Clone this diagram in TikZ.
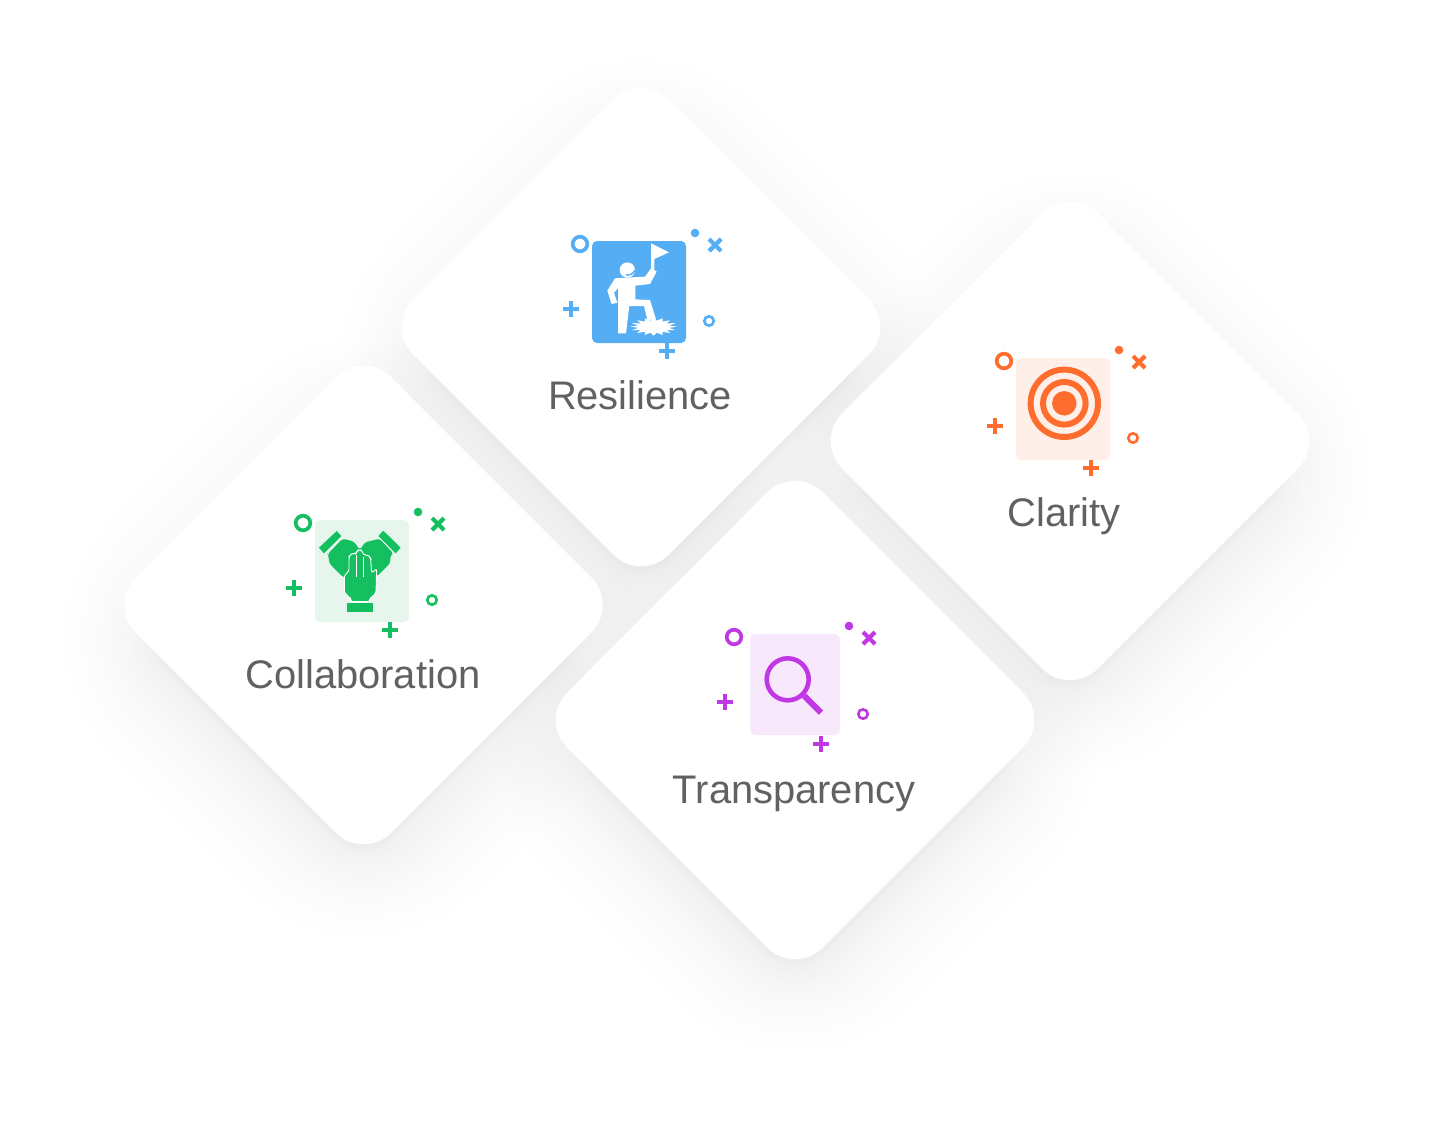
\documentclass[tikz,border=0pt]{standalone}
\usepackage{fontspec}
\setmainfont{Liberation Sans}
\usetikzlibrary{shapes.geometric, positioning}

\definecolor{inkgray}{HTML}{616161}
\definecolor{shadowgray}{HTML}{4A4C52}
\definecolor{skyblue}{HTML}{55ADF3}
\definecolor{flame}{HTML}{FF6D2E}
\definecolor{leaf}{HTML}{14BF60}
\definecolor{violet}{HTML}{C038E4}
\definecolor{leaftile}{HTML}{E7F6EC}
\definecolor{flametile}{HTML}{FEF0E9}
\definecolor{violettile}{HTML}{F7E8FB}

% The little marks around each icon
\newcommand{\sparkles}[3]{
    \begin{scope}[shift={(#2,#3)}, draw=#1, fill=#1]
        \draw[line width=2.1pt] (-59,-48) circle (7.3);
        \draw[line width=1.5pt] (70,29) circle (4.7);
        \fill (56,-59) circle (4.3);
        \draw[line width=2.4pt] (70,-53) -- (82,-41) (70,-41) -- (82,-53);
        \draw[line width=2.5pt] (-76,17) -- (-60,17) (-68,9) -- (-68,25);
        \draw[line width=2.5pt] (20,59) -- (36,59) (28,51) -- (28,67);
    \end{scope}
}

\begin{document}
\begin{tikzpicture}[x=0.02cm, y=-0.02cm]
    \tikzset{card style/.style={diamond,
                                aspect=1,
                                inner sep=0pt,
                                minimum width=10.22cm,
                                minimum height=10.22cm,
                                rounded corners=0.78cm,
                                fill=white},
             tile style/.style={rectangle,
                                inner sep=0pt,
                                minimum width=1.88cm,
                                minimum height=2.04cm,
                                rounded corners=0.1cm},
             label style/.style={font=\fontsize{22.7pt}{26pt}\selectfont,
                                 anchor=base,
                                 text=inkgray}}
    \useasboundingbox (0,0) rectangle (1435,1120);

    % Soft shadows under the cards
    \foreach \cx/\cy in {641/327, 1070/441, 363.5/605, 795/720} {
        \foreach \i in {0,...,25} {
            \pgfmathsetmacro{\d}{228+140*(1-\i/25)*(1-\i/25)}
            \pgfmathsetmacro{\r}{0.8+0.018*max(0,\d-228)}
            \fill[shadowgray, opacity=0.0041, rounded corners=\r cm]
                (\cx-\d,\cy+32) -- (\cx,\cy+32-\d) -- (\cx+\d,\cy+32) -- (\cx,\cy+32+\d) -- cycle;
        }
    }

    % Draw the cards
    \node[card style] at (641, 327)    (resilience)    {};
    \node[card style] at (1070, 441)   (clarity)       {};
    \node[card style] at (363.5, 605)  (collaboration) {};
    \node[card style] at (795, 720)    (transparency)  {};

    % Draw the tiles
    \node[tile style, fill=skyblue]    at (639, 292)  (resilience tile)    {};
    \node[tile style, fill=flametile]  at (1063, 409) (clarity tile)       {};
    \node[tile style, fill=leaftile]   at (362, 571)  (collaboration tile) {};
    \node[tile style, fill=violettile, minimum width=1.8cm, minimum height=2.02cm] at (795, 684.5) (transparency tile) {};

    % Draw the labels
    \node[label style] at (640, 409)  (resilience label)    {Resilience};
    \node[label style] at (1064, 526) (clarity label)       {Clarity};
    \node[label style] at (363, 688)  (collaboration label) {Collaboration};
    \node[label style] at (794, 803)  (transparency label)  {Transparency};

    \sparkles{skyblue}{639}{292}
    \sparkles{flame}{1063}{409}
    \sparkles{leaf}{362}{571}
    \sparkles{violet}{793}{685}

    % Climber, traced in crop pixels
    \begin{scope}[shift={(550,220)}, x=0.00667cm, y=-0.00667cm]
        \fill[white] (303,70) -- (357,97) -- (313,117) -- (313,150) -- (320,155) -- (300,192)
            -- (256,197) -- (256,238) -- (300,240) -- (318,298) -- (292,300) -- (282,258)
            -- (238,258) -- (228,340) -- (204,340) -- (204,205) -- (192,218) -- (202,248) -- (185,252)
            -- (172,212) -- (195,175) -- (245,172) -- (285,170) -- (303,145) -- cycle;
        \fill[white] (232,150) circle (23);
        \draw[skyblue, line width=0.8pt] (228,164) .. controls (238,168) and (248,162) .. (256,150);
        \fill[white] plot[domain=0:360, samples=33]
            ({311+(0.84+0.16*cos(16*\x))*70*cos(\x)}, {320+(0.84+0.16*cos(16*\x))*27*sin(\x)}) -- cycle;
    \end{scope}

    % Target
    \node[circle, draw=flame, line width=3.4pt, minimum size=1.348cm, inner sep=0pt] at (1064.3,403.3) (target outer) {};
    \node[circle, draw=flame, line width=3.4pt, minimum size=0.852cm, inner sep=0pt] at (target outer.center) (target inner) {};
    \node[circle, fill=flame, minimum size=0.49cm, inner sep=0pt] at (target outer.center) (target core) {};

    % Magnifier
    \node[circle, draw=violet, line width=2.6pt, minimum size=0.84cm, inner sep=0pt] at (787.7,679.3) (glass) {};
    \coordinate (handle end) at (821,712.7);
    \draw[violet, line width=3.4pt] (glass) -- (handle end);

    % Hands, traced in crop pixels
    \begin{scope}[shift={(280,500)}, x=0.00667cm, y=-0.00667cm]
        \fill[leaf] (117,143) -- (170,93) -- (184,108) -- (132,160) -- cycle;
        \fill[leaf] (295,108) -- (310,92) -- (362,143) -- (347,160) -- cycle;
        \fill[leaf, rounded corners=1.5pt] (143,162) -- (188,116) -- (205,120) -- (222,125) -- (240,150)
            -- (255,127) -- (275,122) -- (298,116) -- (340,160) -- (332,165) -- (330,190)
            -- (292,228) -- (190,232) -- (148,190) -- (145,165) -- cycle;
        \draw[white, fill=leaf, rounded corners=1.5pt, line width=0.5pt] (193,225) -- (207,215) -- (207,170) -- (215,160)
            -- (228,162) -- (232,150) -- (246,150) -- (250,165) -- (265,165) -- (272,175) -- (275,220) -- (290,205)
            -- (288,280) -- (270,295) -- (270,305) -- (212,305) -- (212,295) -- (193,278) -- cycle;
        \draw[white, line width=0.5pt] (228,165) -- (228,232) (250,170) -- (250,232);
        \fill[leaf] (202,310) rectangle (280,335);
    \end{scope}
\end{tikzpicture}
\end{document}
